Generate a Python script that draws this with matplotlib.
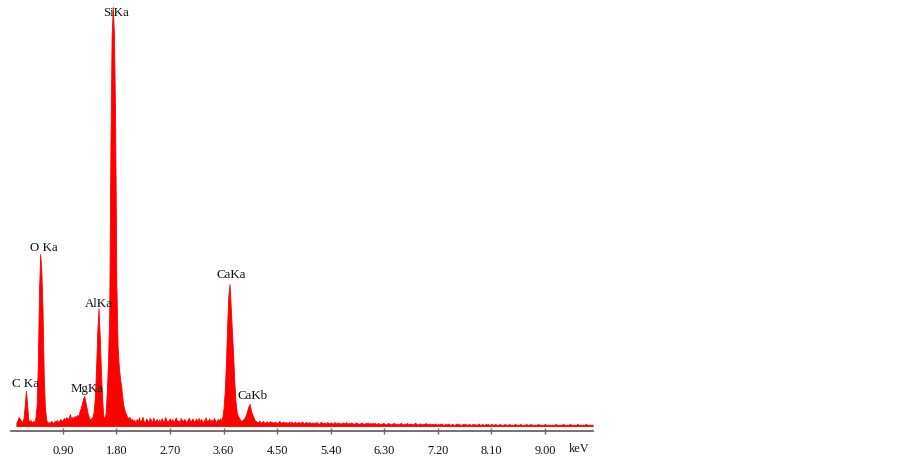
import numpy as np
import matplotlib
matplotlib.use("Agg")
import matplotlib.pyplot as plt

plt.rcParams['font.family'] = ['Liberation Serif', 'DejaVu Serif']

# EDS spectrum, channels of 0.02 keV starting at 0.12 keV (counts)
start_kev = 0.12
step_kev = 0.02
counts = [
    # 0.12 - 1.10
    30, 60, 90, 70, 50, 40, 80, 200, 350, 220, 70, 40, 60, 30, 50, 40, 80, 200, 600, 1350,
    1720, 1550, 1150, 500, 180, 70, 30, 40, 30, 50, 40, 30, 50, 40, 60, 40, 50, 70, 50, 60,
    80, 60, 90, 70, 80, 120, 70, 90, 80, 100,
    # 1.12 - 2.10
    90, 110, 100, 140, 180, 220, 270, 300, 240, 180, 120, 80, 60, 80, 90, 150, 300, 600, 950, 1180,
    900, 550, 280, 100, 70, 130, 350, 650, 1150, 2800, 3900, 4190, 3900, 3000, 1400, 800, 600, 480, 400, 280,
    200, 150, 120, 90, 80, 90, 60, 70, 50, 60,
    # 2.12 - 3.10
    35, 70, 45, 85, 40, 60, 90, 45, 30, 75, 55, 40, 80, 60, 35, 85, 45, 55, 70, 40,
    65, 35, 80, 50, 45, 90, 55, 40, 60, 75, 45, 70, 30, 65, 85, 45, 55, 35, 80, 60,
    45, 70, 50, 35, 65, 80, 45, 55, 75, 40,
    # 3.12 - 4.10
    55, 75, 40, 80, 45, 70, 50, 35, 65, 85, 45, 55, 75, 40, 65, 45, 80, 55, 40, 70,
    55, 75, 60, 90, 180, 350, 620, 1000, 1300, 1420, 1200, 950, 720, 450, 250, 140, 100, 80, 60, 50,
    60, 70, 90, 120, 160, 200, 220, 150, 120, 90,
    # 4.12 - 5.10
    60, 50, 40, 35, 55, 30, 40, 50, 35, 30, 45, 40, 30, 50, 35, 40, 30, 45, 35, 25,
    40, 50, 30, 35, 45, 30, 40, 35, 25, 45, 30, 40, 35, 30, 45, 25, 35, 40, 30, 35,
    45, 30, 25, 40, 35, 30, 40, 25, 35, 30,
    # 5.12 - 6.10
    35, 25, 40, 30, 20, 35, 40, 25, 30, 35, 20, 40, 30, 25, 35, 30, 20, 40, 25, 30,
    35, 25, 30, 20, 35, 30, 25, 40, 20, 30, 25, 35, 30, 20, 25, 35, 30, 25, 20, 30,
    35, 25, 20, 30, 25, 35, 20, 30, 25, 30,
    # 6.12 - 7.10
    25, 30, 20, 25, 30, 15, 25, 20, 30, 25, 15, 20, 30, 25, 20, 15, 25, 30, 20, 25,
    15, 20, 25, 30, 20, 15, 25, 20, 30, 15, 20, 25, 20, 15, 25, 30, 20, 15, 20, 25,
    20, 15, 25, 20, 30, 15, 20, 25, 15, 20,
    # 7.12 - 8.10
    20, 15, 25, 10, 20, 15, 20, 25, 15, 10, 20, 15, 20, 25, 10, 15, 20, 15, 10, 20,
    25, 15, 20, 10, 15, 20, 15, 25, 10, 15, 20, 15, 10, 20, 15, 20, 10, 15, 25, 15,
    10, 20, 15, 10, 20, 15, 20, 10, 15, 20,
    # 8.12 - 9.10
    15, 10, 20, 15, 10, 15, 20, 10, 15, 10, 20, 15, 10, 15, 20, 10, 15, 10, 15, 20,
    10, 15, 10, 20, 15, 10, 15, 10, 20, 15, 10, 15, 20, 10, 15, 10, 15, 10, 20, 15,
    10, 15, 10, 15, 20, 10, 15, 10, 15, 10,
    # 9.12 - 9.80
    15, 10, 15, 20, 10, 15, 10, 15, 10, 20, 15, 10, 15, 10, 15, 20, 10, 15, 10, 15,
    10, 20, 15, 10, 15, 10, 15, 10, 20, 15, 10, 15, 10, 15, 10,
]

peak_names = ['C Ka', 'O Ka', 'MgKa', 'AlKa', 'SiKa', 'CaKa', 'CaKb']
peak_kev = [0.28, 0.52, 1.26, 1.50, 1.74, 3.70, 4.04]

tick_kev = [0.90, 1.80, 2.70, 3.60, 4.50, 5.40, 6.30, 7.20, 8.10, 9.00]

# label placement relative to each peak top, in pixels (dx, dy)
label_offsets = [(0, 8), (4, 7), (3, 8), (0, 5), (3, -5), (2, 10), (3, 9)]

energy = start_kev + step_kev * np.arange(len(counts))
counts = np.array(counts, dtype=float)

W, H = 902, 460
fig = plt.figure(figsize=(W / 100, H / 100), dpi=100)
ax = fig.add_axes([11 / W, (H - 432) / H, (592.7 - 11) / W, 432 / H])

ax.fill_between(energy, 0, counts, color='#ff0000', linewidth=0.6, edgecolor='#ff0000')

ax.set_xlim(0.03, 9.80)
ax.set_ylim(-50, 4270)

for s in ['left', 'right', 'top']:
    ax.spines[s].set_visible(False)
ax.spines['bottom'].set_color('#666666')
ax.spines['bottom'].set_linewidth(1.3)
ax.set_yticks([])
ax.set_xticks(tick_kev)
ax.set_xticklabels([f'{t:.2f}' for t in tick_kev])
ax.tick_params(axis='x', direction='inout', length=5, width=1, color='#666666',
               labelsize=8.8, pad=7, labelcolor='#111111')

for name, e, (dx, dy) in zip(peak_names, peak_kev, label_offsets):
    i = int(np.argmin(np.abs(energy - e)))
    ax.annotate(name, xy=(energy[i], counts[i]), xytext=(dx, dy),
                textcoords='offset pixels', ha='center', va='center',
                fontsize=9.3, color='#111111', annotation_clip=False)

fig.text(579 / W, 1 - 449 / H, 'keV', ha='center', va='center',
         fontsize=8.8, color='#111111')

fig.savefig('out.png', dpi=100)
